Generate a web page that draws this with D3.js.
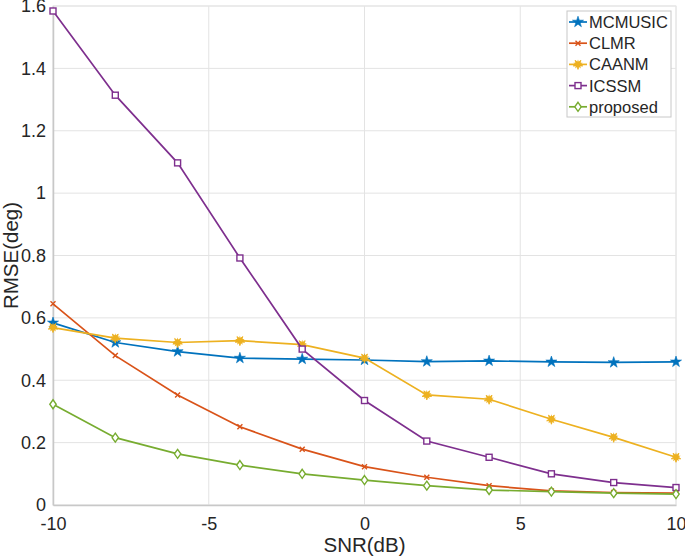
<!DOCTYPE html>
<html>
<head>
<meta charset="utf-8">
<script src="https://cdn.jsdelivr.net/npm/d3@7"></script>
<style>
  body { margin: 0; background: #fff; }
  svg text { font-family: "Liberation Sans", Arial, sans-serif; fill: #262626; }
</style>
</head>
<body>
<svg id="chart" width="685" height="560"></svg>
<script>
// SNR values on the x axis
const snr = [-10, -8, -6, -4, -2, 0, 2, 4, 6, 8, 10];

// RMSE values
const mcmusic  = [0.584, 0.521, 0.492, 0.471, 0.468, 0.465, 0.460, 0.462, 0.459, 0.457, 0.459];
const clmr     = [0.645, 0.479, 0.353, 0.251, 0.179, 0.123, 0.089, 0.062, 0.045, 0.040, 0.038];
const caanm    = [0.569, 0.535, 0.521, 0.527, 0.514, 0.471, 0.353, 0.339, 0.275, 0.217, 0.153];
const icssm    = [1.584, 1.314, 1.097, 0.792, 0.500, 0.335, 0.205, 0.153, 0.100, 0.072, 0.056];
const proposed = [0.323, 0.216, 0.164, 0.128, 0.100, 0.080, 0.062, 0.048, 0.043, 0.038, 0.035];

const seriesNames = ['MCMUSIC', 'CLMR', 'CAANM', 'ICSSM', 'proposed'];
const xTicks = [-10, -5, 0, 5, 10];
const yTicks = [0, 0.2, 0.4, 0.6, 0.8, 1, 1.2, 1.4, 1.6];

const series = [
    { name: seriesNames[0], values: mcmusic,  color: '#0072BD', marker: 'star' },
    { name: seriesNames[1], values: clmr,     color: '#D95319', marker: 'cross' },
    { name: seriesNames[2], values: caanm,    color: '#EDB120', marker: 'star6' },
    { name: seriesNames[3], values: icssm,    color: '#7E2F8E', marker: 'square' },
    { name: seriesNames[4], values: proposed, color: '#77AC30', marker: 'diamond' }
];

const margin = { top: 6, right: 9, bottom: 55, left: 53 };
const svg = d3.select('#chart');
const width = 685 - margin.left - margin.right;
const height = 560 - margin.top - margin.bottom;

const chart = svg.append('g')
    .attr('transform', `translate(${margin.left},${margin.top})`);

const xScale = d3.scaleLinear().domain([-10, 10]).range([0, width]);
const yScale = d3.scaleLinear().domain([0, 1.6]).range([height, 0]);

// Grid lines
chart.append('g')
    .selectAll('line.vgrid')
    .data(xTicks)
    .join('line')
    .attr('x1', d => xScale(d)).attr('x2', d => xScale(d))
    .attr('y1', 0).attr('y2', height)
    .attr('stroke', '#e3e3e3').attr('stroke-width', 1);

chart.append('g')
    .selectAll('line.hgrid')
    .data(yTicks)
    .join('line')
    .attr('x1', 0).attr('x2', width)
    .attr('y1', d => yScale(d)).attr('y2', d => yScale(d))
    .attr('stroke', '#e3e3e3').attr('stroke-width', 1);

// Box around plot area
chart.append('rect')
    .attr('width', width).attr('height', height)
    .attr('fill', 'none')
    .attr('stroke', '#e6e6e6');

// Axes
const xAxis = d3.axisBottom(xScale).tickValues(xTicks).tickSize(0).tickPadding(12)
    .tickFormat(d => d < 0 ? '-' + Math.abs(d) : d);
const yAxis = d3.axisLeft(yScale).tickValues(yTicks).tickSize(0).tickPadding(7)
    .tickFormat(d3.format('~g'));

const xAxisGroup = chart.append('g')
    .attr('transform', `translate(0,${height})`)
    .call(xAxis);
const yAxisGroup = chart.append('g').call(yAxis);

[xAxisGroup, yAxisGroup].forEach(g => {
    g.select('.domain').attr('stroke', '#c8c8c8').attr('stroke-width', 1.5);
    g.selectAll('text').style('font-size', '18px').attr('fill', '#262626');
});

// Marker drawing helper
function drawMarker(sel, type, color) {
    if (type === 'star') {
        sel.append('path')
            .attr('d', d3.symbol(d3.symbolStar, 38)())
            .attr('fill', color).attr('stroke', color).attr('stroke-width', 0.6);
    } else if (type === 'star6') {
        sel.append('path')
            .attr('d', d3.symbol(d3.symbolStar, 28)())
            .attr('fill', color).attr('stroke', color).attr('stroke-width', 0.8)
            .attr('transform', 'rotate(36)');
        sel.append('path')
            .attr('d', d3.symbol(d3.symbolStar, 28)())
            .attr('fill', color);
    } else if (type === 'cross') {
        sel.append('path')
            .attr('d', 'M-2.5,-2.5L2.5,2.5M-2.5,2.5L2.5,-2.5')
            .attr('stroke', color).attr('stroke-width', 1.4).attr('fill', 'none');
    } else if (type === 'square') {
        sel.append('rect')
            .attr('x', -3).attr('y', -3).attr('width', 6).attr('height', 6)
            .attr('fill', '#fff').attr('stroke', color).attr('stroke-width', 1.4);
    } else if (type === 'diamond') {
        sel.append('path')
            .attr('d', 'M0,-4.5L3.2,0L0,4.5L-3.2,0Z')
            .attr('fill', '#fff').attr('stroke', color).attr('stroke-width', 1.4);
    }
}

const line = d3.line()
    .x((d, i) => xScale(snr[i]))
    .y(d => yScale(d));

series.forEach(s => {
    chart.append('path')
        .datum(s.values)
        .attr('fill', 'none')
        .attr('stroke', s.color)
        .attr('stroke-width', 1.7)
        .attr('d', line);

    chart.append('g')
        .selectAll('g')
        .data(s.values)
        .join('g')
        .attr('transform', (d, i) => `translate(${xScale(snr[i])},${yScale(d)})`)
        .each(function() { drawMarker(d3.select(this), s.marker, s.color); });
});

// Axis titles
svg.append('text')
    .attr('text-anchor', 'middle')
    .attr('transform', `translate(18,${margin.top + height / 2}) rotate(-90)`)
    .style('font-size', '20.5px')
    .text('RMSE(deg)');

svg.append('text')
    .attr('text-anchor', 'middle')
    .attr('x', margin.left + width / 2)
    .attr('y', 552)
    .style('font-size', '20.5px')
    .text('SNR(dB)');

// Legend
const legend = svg.append('g').attr('transform', 'translate(567,11)');
legend.append('rect')
    .attr('width', 104).attr('height', 106)
    .attr('fill', '#fff').attr('stroke', '#c8c8c8');

series.forEach((s, i) => {
    const row = legend.append('g').attr('transform', `translate(0,${11 + i * 21.2})`);
    row.append('line')
        .attr('x1', 2).attr('x2', 20)
        .attr('stroke', s.color).attr('stroke-width', 1.7);
    const m = row.append('g').attr('transform', 'translate(11,0)');
    drawMarker(m, s.marker, s.color);
    row.append('text')
        .attr('x', 22).attr('y', 6)
        .style('font-size', '16.5px')
        .text(s.name);
});
</script>
</body>
</html>
